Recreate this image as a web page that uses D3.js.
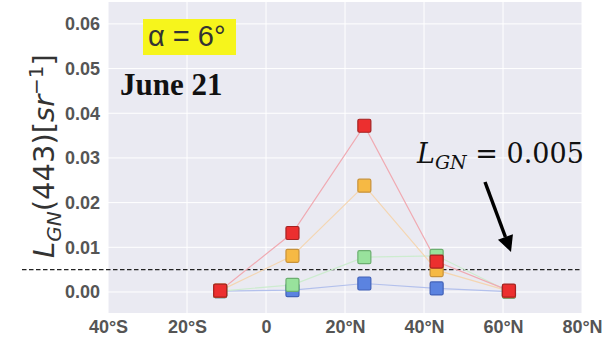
<!DOCTYPE html>
<html><head><meta charset="utf-8">
<script src="https://cdn.jsdelivr.net/npm/d3@7"></script>
<style>body{margin:0;background:#fff}svg{display:block}</style>
</head><body><svg id="c" width="602" height="339"></svg>
<script>
const latitudes = [-11.6, 6.7, 24.9, 43.2, 61.5];
const seriesNames = ["blue", "green", "orange", "red"];
const blueValues   = [0.0002, 0.0004, 0.0019, 0.0008, 0.0001];
const greenValues  = [0.0002, 0.0016, 0.0078, 0.0081, 0.0001];
const orangeValues = [0.0003, 0.0081, 0.0238, 0.0049, 0.0002];
const redValues    = [0.0003, 0.0132, 0.0372, 0.0068, 0.0003];
const xTicks = [-40, -20, 0, 20, 40, 60, 80];
const xTickLabels = ["40°S", "20°S", "0", "20°N", "40°N", "60°N", "80°N"];
const yTicks = [0, 0.01, 0.02, 0.03, 0.04, 0.05, 0.06];
const thresholdValue = 0.005;

const colors = {
  blue:   {fill:"#5b83e0", edge:"#4262b8", line:"#b3c0ec"},
  green:  {fill:"#98e29c", edge:"#6caf70", line:"#cdeccf"},
  orange: {fill:"#f6b944", edge:"#c8923a", line:"#f4d6b2"},
  red:    {fill:"#ec2f2f", edge:"#a52222", line:"#f0aab2"}
};
const values = {blue: blueValues, green: greenValues, orange: orangeValues, red: redValues};

const svg = d3.select("#c");
const L = 108, R = 582, T = 2, B = 313;
const x = d3.scaleLinear().domain([-40, 80]).range([L, R]);
const y = d3.scaleLinear().domain([-0.0047, 0.0649]).range([B, T]);

svg.append("rect").attr("x", L).attr("y", T).attr("width", R - L).attr("height", B - T).attr("fill", "#eaeaf2");

// grid
svg.append("g").selectAll("line").data(xTicks).join("line")
  .attr("x1", d => x(d)).attr("x2", d => x(d)).attr("y1", T).attr("y2", B)
  .attr("stroke", "#fff").attr("stroke-width", 1);
svg.append("g").selectAll("line").data(yTicks).join("line")
  .attr("x1", L).attr("x2", R).attr("y1", d => y(d)).attr("y2", d => y(d))
  .attr("stroke", "#fff").attr("stroke-width", 1);

// axes
const xAxis = svg.append("g").attr("transform", `translate(0,${B})`)
  .call(d3.axisBottom(x).tickValues(xTicks).tickFormat((d, i) => xTickLabels[i]).tickSize(0).tickPadding(7));
const yAxis = svg.append("g").attr("transform", `translate(${L},0)`)
  .call(d3.axisLeft(y).tickValues(yTicks).tickFormat(d3.format(".2f")).tickSize(0).tickPadding(8));
[xAxis, yAxis].forEach(a => {
  a.select(".domain").remove();
  a.selectAll("text").attr("font-family", "Liberation Sans, Arial, sans-serif")
    .attr("font-size", 18).attr("font-weight", "bold").attr("fill", "#555");
});
xAxis.selectAll("text").attr("dy", "0.71em");

// threshold dashed line
svg.append("line").attr("x1", 22).attr("x2", R).attr("y1", y(thresholdValue)).attr("y2", y(thresholdValue))
  .attr("stroke", "#222").attr("stroke-width", 1.4).attr("stroke-dasharray", "4.5,2.5");

// series
const line = d3.line().x((d, i) => x(latitudes[i])).y(d => y(d));
seriesNames.forEach(name => {
  svg.append("path").datum(values[name]).attr("d", line)
    .attr("fill", "none").attr("stroke", colors[name].line).attr("stroke-width", 1.2);
});
const ms = 13;
seriesNames.forEach(name => {
  svg.append("g").selectAll("rect").data(values[name]).join("rect")
    .attr("x", (d, i) => x(latitudes[i]) - ms / 2).attr("y", d => y(d) - ms / 2)
    .attr("width", ms).attr("height", ms).attr("rx", 1.5)
    .attr("fill", colors[name].fill).attr("stroke", colors[name].edge).attr("stroke-width", 1.2);
});

// y label
const yl = svg.append("text").attr("transform", "translate(54,156) rotate(-90)")
  .attr("text-anchor", "middle").attr("font-family", "DejaVu Sans, sans-serif")
  .attr("font-size", 29).attr("fill", "#333");
yl.append("tspan").attr("font-style", "italic").text("L");
yl.append("tspan").attr("font-style", "italic").attr("font-size", 20).attr("dy", 7).text("GN");
yl.append("tspan").attr("dy", -7).text("(443)[");
yl.append("tspan").attr("font-style", "italic").text("sr");
yl.append("tspan").attr("font-size", 20).attr("dy", -11).text("−1");
yl.append("tspan").attr("dy", 11).text("]");

// alpha box
svg.append("rect").attr("x", 143).attr("y", 19).attr("width", 93).attr("height", 36).attr("fill", "#f6f51c");
svg.append("text").attr("x", 148).attr("y", 46).attr("font-family", "Liberation Sans, Arial, sans-serif")
  .attr("font-size", 29).attr("fill", "#333").text("α = 6°");

// June 21
svg.append("text").attr("x", 120).attr("y", 95).attr("font-family", "Liberation Serif, Times New Roman, serif")
  .attr("font-size", 31).attr("font-weight", "bold").attr("fill", "#111").text("June 21");

// L_GN = 0.005 annotation
const ann = svg.append("text").attr("x", 417).attr("y", 163).attr("font-family", "DejaVu Serif, serif")
  .attr("font-size", 27).attr("fill", "#111");
ann.append("tspan").attr("font-style", "italic").text("L");
ann.append("tspan").attr("font-style", "italic").attr("font-size", 19).attr("dy", 6).text("GN");
ann.append("tspan").attr("dy", -6).text(" = 0.005");

// arrow
const x0 = 485, y0 = 182, x1 = 511, y1 = 252;
const ang = Math.atan2(y1 - y0, x1 - x0);
const hl = 16, hw = 8;
const bx = x1 - hl * Math.cos(ang), by = y1 - hl * Math.sin(ang);
svg.append("line").attr("x1", x0).attr("y1", y0).attr("x2", bx).attr("y2", by)
  .attr("stroke", "#000").attr("stroke-width", 3.5);
svg.append("path").attr("d", `M${x1},${y1}L${bx + hw * Math.sin(ang)},${by - hw * Math.cos(ang)}L${bx - hw * Math.sin(ang)},${by + hw * Math.cos(ang)}Z`)
  .attr("fill", "#000");
</script></body></html>
